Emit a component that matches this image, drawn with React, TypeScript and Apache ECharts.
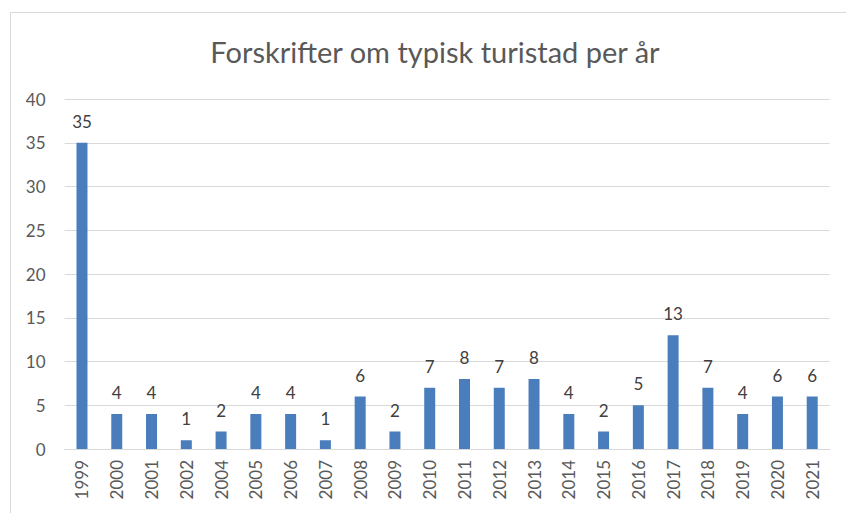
import React, { useEffect, useRef } from "react";
import * as echarts from "echarts";

const categories = ["1999","2000","2001","2002","2004","2005","2006","2007","2008","2009","2010","2011","2012","2013","2014","2015","2016","2017","2018","2019","2020","2021"];
const values = [35,4,4,1,2,4,4,1,6,2,7,8,7,8,4,2,5,13,7,4,6,6];
const title = "Forskrifter om typisk turistad per år";

export default function App() {
  const ref = useRef<HTMLDivElement>(null);
  useEffect(() => {
    if (!ref.current) return;
    const chart = echarts.init(ref.current, null, { renderer: "svg" });
    const font = "Lato, 'Open Sans', sans-serif";
    chart.setOption({
      animation: false,
      backgroundColor: "#ffffff",
      title: {
        text: title,
        left: 430,
        textAlign: "center",
        top: 32,
        textStyle: { fontFamily: font, fontSize: 29, fontWeight: "normal", color: "#595959" },
      },
      graphic: [
        {
          type: "rect",
          shape: { x: 10.5, y: 12.5, width: 900, height: 600 },
          style: { fill: "none", stroke: "#d9d9d9", lineWidth: 1 },
          silent: true,
        },
      ],
      grid: { left: 64.6, right: 16.4, top: 99, bottom: 64 },
      xAxis: {
        type: "category",
        data: categories,
        axisLine: { show: true, lineStyle: { color: "#d9d9d9" } },
        axisTick: { show: false },
        axisLabel: { rotate: 90, interval: 0, color: "#595959", fontFamily: font, fontSize: 17, margin: 11 },
      },
      yAxis: {
        type: "value",
        min: 0,
        max: 40,
        interval: 5,
        axisLine: { show: false },
        axisTick: { show: false },
        axisLabel: { color: "#595959", fontFamily: font, fontSize: 17, margin: 19 },
        splitLine: { lineStyle: { color: "#d9d9d9" } },
      },
      series: [
        {
          type: "bar",
          data: values,
          barWidth: 11,
          itemStyle: { color: "#4a7dbb" },
          label: { show: true, position: "top", distance: 13, color: "#404040", fontFamily: font, fontSize: 17 },
        },
      ],
    });
    return () => chart.dispose();
  }, []);
  return <div ref={ref} style={{ position: "absolute", left: 0, top: 0, width: 846, height: 513 }} />;
}
